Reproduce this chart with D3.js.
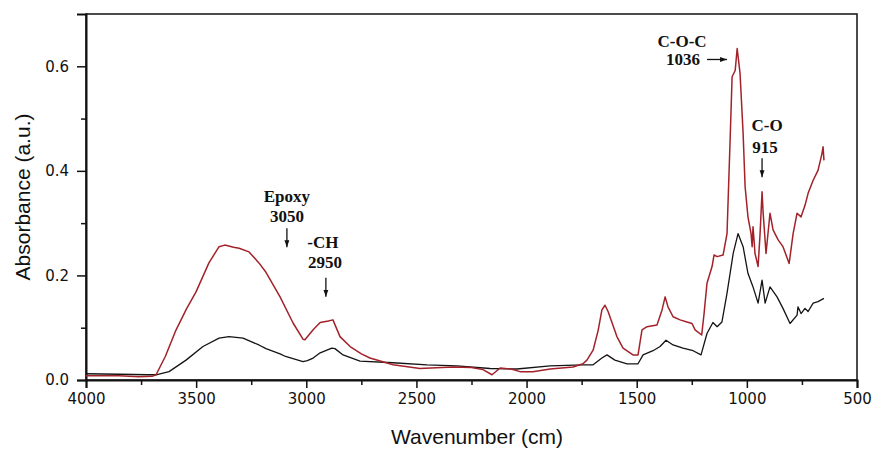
<!DOCTYPE html>
<html>
<head>
<meta charset="utf-8">
<script src="https://cdn.jsdelivr.net/npm/d3@7"></script>
<style>
  body { margin: 0; background: #fff; }
  svg { display: block; }
</style>
</head>
<body>
<div id="chart"></div>
<script>
// red spectrum (wavenumber, absorbance)
var redWn = [4000, 3850, 3760, 3700, 3682, 3640, 3591, 3545, 3500, 3442, 3396, 3370, 3330, 3305, 3260, 3215, 3183, 3119, 3060, 3015, 3006, 2969, 2937, 2900, 2879, 2847, 2801, 2750, 2711, 2606, 2484, 2334, 2250, 2198, 2157, 2120, 2070, 2030, 1971, 1893, 1789, 1744, 1726, 1698, 1675, 1658, 1644, 1630, 1590, 1562, 1517, 1494, 1476, 1453, 1408, 1385, 1371, 1358, 1335, 1303, 1272, 1249, 1235, 1205, 1194, 1181, 1158, 1149, 1135, 1108, 1090, 1076, 1067, 1053, 1044, 1031, 1017, 1008, 995, 981, 976, 972, 963, 949, 940, 931, 926, 913, 895, 881, 858, 836, 808, 790, 772, 754, 736, 722, 699, 677, 659, 654, 650];
var redAbs = [0.008, 0.008, 0.006, 0.007, 0.010, 0.045, 0.096, 0.135, 0.169, 0.224, 0.255, 0.258, 0.254, 0.252, 0.245, 0.224, 0.206, 0.159, 0.109, 0.078, 0.077, 0.096, 0.110, 0.113, 0.115, 0.083, 0.064, 0.050, 0.042, 0.029, 0.022, 0.025, 0.024, 0.020, 0.010, 0.023, 0.021, 0.016, 0.016, 0.021, 0.025, 0.031, 0.038, 0.057, 0.095, 0.134, 0.143, 0.131, 0.083, 0.061, 0.048, 0.048, 0.096, 0.102, 0.105, 0.134, 0.159, 0.140, 0.121, 0.115, 0.111, 0.108, 0.096, 0.086, 0.128, 0.185, 0.217, 0.239, 0.236, 0.239, 0.280, 0.459, 0.580, 0.592, 0.634, 0.587, 0.472, 0.370, 0.312, 0.280, 0.255, 0.293, 0.242, 0.217, 0.280, 0.360, 0.319, 0.242, 0.319, 0.287, 0.268, 0.255, 0.223, 0.280, 0.319, 0.312, 0.334, 0.357, 0.382, 0.401, 0.433, 0.446, 0.420];

// black spectrum
var blackWn = [4000, 3850, 3720, 3682, 3623, 3546, 3469, 3396, 3351, 3287, 3215, 3183, 3119, 3094, 3015, 2995, 2969, 2937, 2884, 2870, 2833, 2756, 2606, 2452, 2316, 2166, 2044, 1893, 1744, 1698, 1658, 1635, 1599, 1544, 1494, 1471, 1426, 1394, 1367, 1335, 1290, 1244, 1208, 1181, 1154, 1135, 1113, 1090, 1062, 1040, 1017, 995, 972, 949, 931, 917, 895, 863, 836, 804, 772, 768, 754, 736, 722, 699, 677, 650];
var blackAbs = [0.012, 0.011, 0.010, 0.010, 0.016, 0.038, 0.064, 0.080, 0.083, 0.080, 0.067, 0.060, 0.050, 0.045, 0.035, 0.037, 0.042, 0.052, 0.061, 0.060, 0.048, 0.036, 0.033, 0.029, 0.027, 0.022, 0.021, 0.027, 0.029, 0.029, 0.042, 0.048, 0.038, 0.031, 0.031, 0.048, 0.056, 0.064, 0.076, 0.067, 0.061, 0.056, 0.048, 0.089, 0.110, 0.102, 0.111, 0.166, 0.242, 0.280, 0.255, 0.204, 0.178, 0.147, 0.191, 0.147, 0.178, 0.159, 0.137, 0.108, 0.124, 0.140, 0.127, 0.137, 0.131, 0.147, 0.150, 0.156];

var xMajor = [4000, 3500, 3000, 2500, 2000, 1500, 1000, 500];
var xMinor = [3750, 3250, 2750, 2250, 1750, 1250, 750];
var yMajor = [0, 0.2, 0.4, 0.6];
var yMinor = [0.1, 0.3, 0.5];

// peak labels: arrow tip in data units
var peakLines = [["Epoxy", "3050"], ["-CH", "2950"], ["C-O-C", "1036"], ["C-O", "915"]];
var peakWn = [3088, 2911, 1090, 931];
var peakAbs = [0.254, 0.159, 0.613, 0.388];

var W = 872, H = 449;
var m = { top: 14, right: 15, bottom: 69, left: 86 };

var svg = d3.select('#chart').append('svg')
  .attr('width', W)
  .attr('height', H);

var x = d3.scaleLinear().domain([4000, 500]).range([m.left, W - m.right]);
var y = d3.scaleLinear().domain([0, 0.7]).range([H - m.bottom, m.top]);

// frame
svg.append('rect')
  .attr('x', m.left).attr('y', m.top)
  .attr('width', W - m.left - m.right).attr('height', H - m.top - m.bottom)
  .attr('fill', 'none').attr('stroke', '#111').attr('stroke-width', 1.5);

svg.append('g')
  .attr('transform', 'translate(0,' + (H - m.bottom) + ')')
  .call(d3.axisBottom(x).tickValues(xMajor).tickFormat(d3.format('d')).tickSize(8).tickPadding(5));
svg.append('g')
  .attr('transform', 'translate(0,' + (H - m.bottom) + ')')
  .call(d3.axisBottom(x).tickValues(xMinor).tickFormat('').tickSize(5))
  .select('.domain').remove();

svg.append('g')
  .attr('transform', 'translate(' + m.left + ',0)')
  .call(d3.axisLeft(y).tickValues(yMajor).tickFormat(d3.format('.1f')).tickSize(9).tickPadding(8));
svg.append('g')
  .attr('transform', 'translate(' + m.left + ',0)')
  .call(d3.axisLeft(y).tickValues(yMinor).tickFormat('').tickSize(5))
  .select('.domain').remove();

svg.selectAll('.tick line').attr('stroke', '#111').attr('stroke-width', 1.5);
svg.selectAll('.domain').attr('stroke', '#111').attr('stroke-width', 2);
svg.selectAll('.tick text')
  .attr('fill', '#111')
  .style('font-family', '"DejaVu Sans", sans-serif')
  .style('font-size', '15px');

// axis titles
svg.append('text')
  .attr('x', 477).attr('y', 444)
  .attr('text-anchor', 'middle')
  .style('font-family', '"Liberation Sans", Arial, sans-serif')
  .style('font-size', '21px')
  .attr('fill', '#111')
  .text('Wavenumber (cm)');

svg.append('text')
  .attr('transform', 'translate(30,' + 197 + ') rotate(-90)')
  .attr('text-anchor', 'middle')
  .style('font-family', '"Liberation Sans", Arial, sans-serif')
  .style('font-size', '21px')
  .attr('fill', '#111')
  .text('Absorbance (a.u.)');

// spectra
var line = d3.line()
  .x(function (d) { return x(d[0]); })
  .y(function (d) { return y(d[1]); });

var black = blackWn.map(function (w, i) { return [w, blackAbs[i]]; });
var red = redWn.map(function (w, i) { return [w, redAbs[i]]; });

svg.append('path').datum(black)
  .attr('d', line).attr('fill', 'none')
  .attr('stroke', '#141414').attr('stroke-width', 1.3).attr('stroke-linejoin', 'round');
svg.append('path').datum(red)
  .attr('d', line).attr('fill', 'none')
  .attr('stroke', '#a3222a').attr('stroke-width', 1.5).attr('stroke-linejoin', 'round');

// annotations
svg.append('defs').append('marker')
  .attr('id', 'head')
  .attr('viewBox', '0 0 10 10')
  .attr('refX', 10).attr('refY', 5)
  .attr('markerWidth', 7).attr('markerHeight', 7)
  .attr('markerUnits', 'userSpaceOnUse')
  .attr('orient', 'auto')
  .append('path').attr('d', 'M0,1.5 L10,5 L0,8.5 Z').attr('fill', '#111');

// text offsets from arrow tip
var layout = [
  { dx: 0, dy1: -45, dy2: -25, dx2: 0, dir: 'down' },
  { dx: -3, dy1: -49, dy2: -29, dx2: -1, dir: 'down' },
  { dx: -45, dy1: -12, dy2: 6, dx2: -44, dir: 'right' },
  { dx: 5, dy1: -46, dy2: -24, dx2: 3, dir: 'down' }
];

peakLines.forEach(function (lines, i) {
  var tx = x(peakWn[i]), ty = y(peakAbs[i]), L = layout[i];
  var g = svg.append('g')
    .style('font-family', '"Liberation Serif", "Times New Roman", serif')
    .style('font-weight', 'bold')
    .style('font-size', '17px')
    .attr('fill', '#111')
    .attr('text-anchor', 'middle');
  g.append('text').attr('x', tx + L.dx).attr('y', ty + L.dy1).text(lines[0]);
  g.append('text').attr('x', tx + L.dx2).attr('y', ty + L.dy2).text(lines[1]);
  var x0 = L.dir === 'down' ? tx : tx - 20;
  var y0 = L.dir === 'down' ? ty - 19 : ty;
  svg.append('line')
    .attr('x1', x0).attr('y1', y0).attr('x2', tx).attr('y2', ty)
    .attr('stroke', '#111').attr('stroke-width', 1.3)
    .attr('marker-end', 'url(#head)');
});
</script>
</body>
</html>
